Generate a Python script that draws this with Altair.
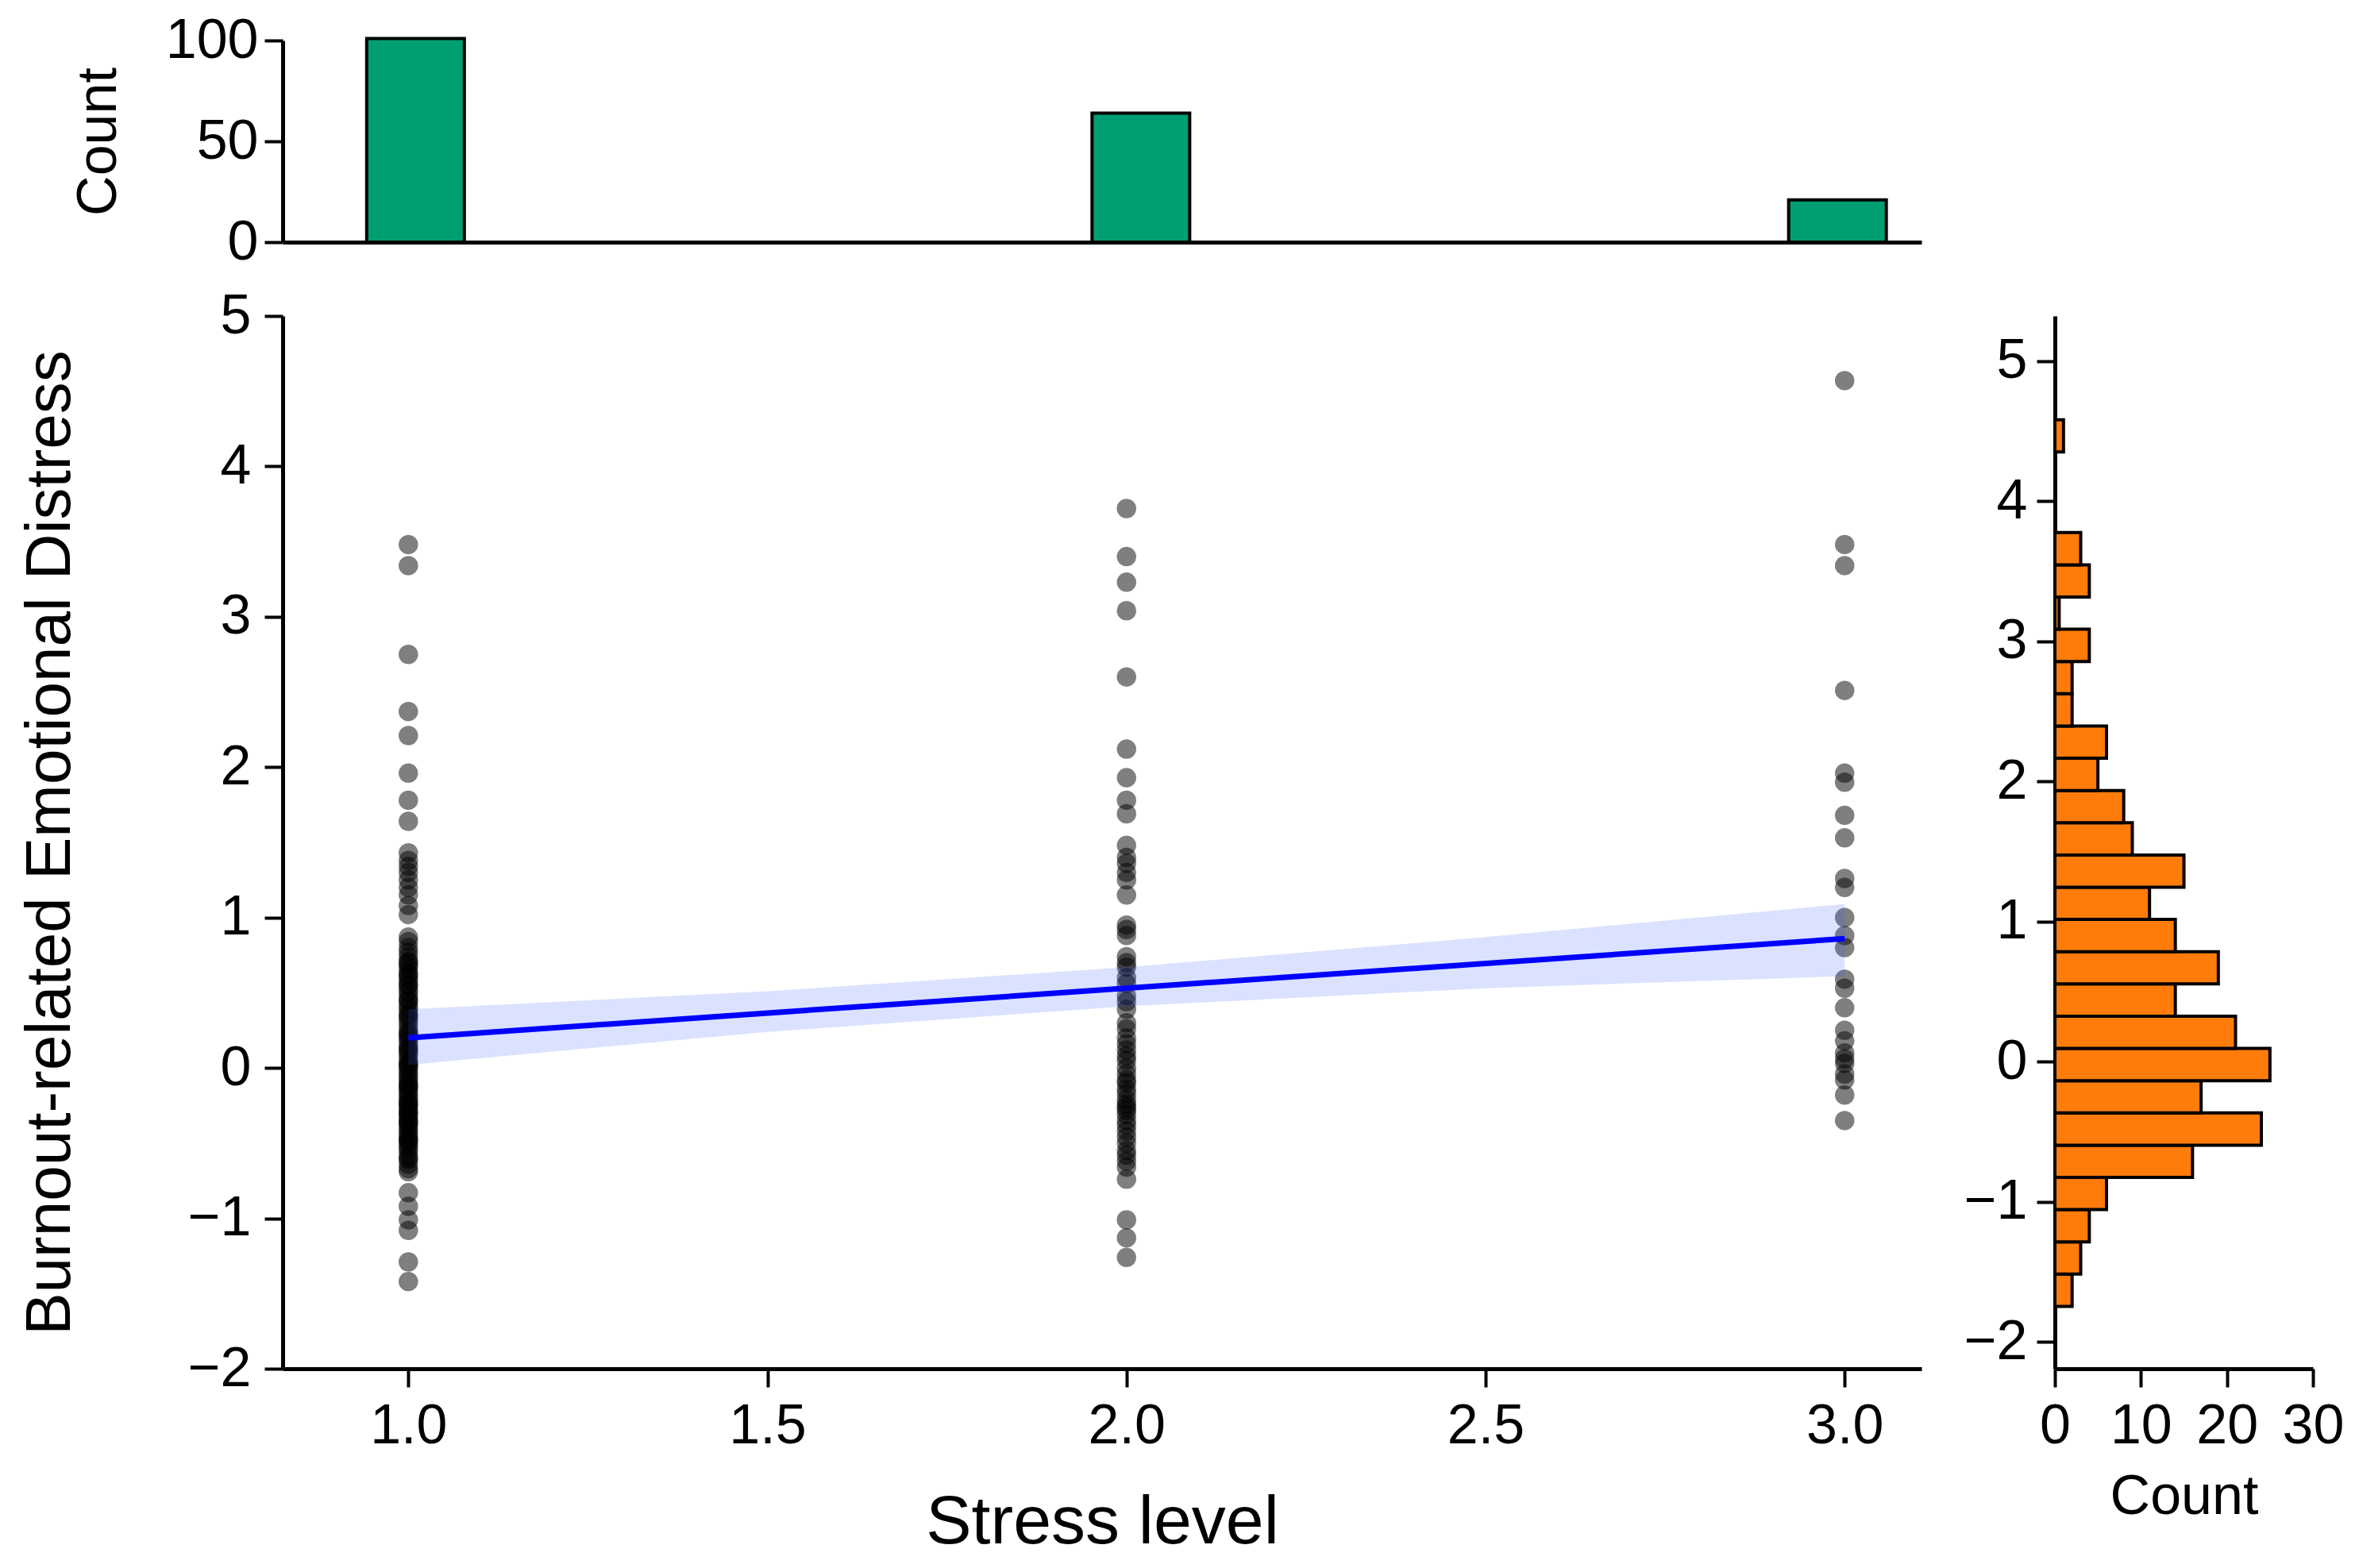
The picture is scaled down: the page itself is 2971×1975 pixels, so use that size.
import altair as alt
import pandas as pd

FONT = "Liberation Sans"
GREEN = "#009E73"
ORANGE = "#FF7C0A"

# ---------------- data ----------------
# scatter: distress values at each stress level
y_at_1 = [3.48, 3.34, 2.75, 2.37, 2.21, 1.96, 1.78, 1.64, 1.43, 1.38, 1.34, 1.30, 1.25,
          1.20, 1.15, 1.08, 1.02,
          0.87, 0.84, 0.80, 0.77, 0.74, 0.71, 0.70, 0.68, 0.66, 0.63, 0.62, 0.60, 0.58,
          0.55, 0.55, 0.52, 0.50, 0.47, 0.45, 0.44, 0.41, 0.39, 0.36, 0.35, 0.33, 0.31,
          0.28, 0.25, 0.23, 0.22, 0.20, 0.18, 0.15, 0.13, 0.12, 0.10, 0.08, 0.05, 0.03,
          0.02, 0.01, -0.01, -0.03, -0.05, -0.07, -0.09, -0.11, -0.12, -0.13, -0.15,
          -0.17, -0.19, -0.21, -0.23, -0.24, -0.25, -0.27, -0.29, -0.30, -0.31, -0.33,
          -0.35, -0.36, -0.37, -0.39, -0.41, -0.43, -0.45, -0.47, -0.48, -0.49, -0.51,
          -0.53, -0.55, -0.58, -0.60, -0.61, -0.64, -0.67, -0.69,
          -0.83, -0.92, -1.01, -1.08, -1.29, -1.42]
y_at_2 = [3.72, 3.40, 3.23, 3.04, 2.60, 2.12, 1.93, 1.78, 1.69, 1.48, 1.40, 1.36, 1.30,
          1.25, 1.15, 0.95, 0.92, 0.88, 0.74, 0.70, 0.67, 0.60, 0.56, 0.48, 0.44, 0.39,
          0.30, 0.26, 0.20, 0.16, 0.12, 0.08, 0.05, 0.00, -0.04, -0.08, -0.10, -0.14,
          -0.17, -0.21, -0.24, -0.26, -0.28, -0.31, -0.35, -0.38, -0.42, -0.46, -0.50,
          -0.55, -0.58, -0.62, -0.66, -0.74, -1.01, -1.13, -1.26]
y_at_3 = [4.57, 3.48, 3.34, 2.51, 1.96, 1.90, 1.68, 1.53, 1.26, 1.20, 1.00, 0.88, 0.80,
          0.59, 0.53, 0.40, 0.25, 0.18, 0.10, 0.06, 0.03, -0.04, -0.08, -0.18, -0.35]

# regression line and confidence band
reg_x = [1.0, 3.0]
reg_y = [0.20, 0.86]
ci_x = [1.0, 1.5, 2.0, 2.5, 3.0]
ci_lo = [0.02, 0.24, 0.41, 0.53, 0.61]
ci_hi = [0.39, 0.51, 0.67, 0.87, 1.09]

# top marginal histogram (stress level): bar centres and counts
top_levels = [1.01, 2.02, 2.99]
top_counts = [101, 64, 21]

# right marginal histogram (distress): bin lower edges and counts
right_bin_lo = [-1.745, -1.515, -1.285, -1.055, -0.825, -0.595, -0.365, -0.135, 0.095,
                0.325, 0.555, 0.785, 1.015, 1.245, 1.475, 1.705, 1.935, 2.165, 2.395,
                2.625, 2.855, 3.085, 3.315, 3.545, 4.35]
right_counts = [2, 3, 4, 6, 16, 24, 17, 25, 21, 14, 19, 14, 11, 15, 9, 8, 5, 6, 2, 2, 4,
                0.5, 4, 3, 1]

RIGHT_BIN_W = 0.23
TOP_HALF_W = 0.068

# ---------------- tables ----------------
scatter_df = pd.DataFrame({
    "stress": [1.0] * len(y_at_1) + [2.0] * len(y_at_2) + [3.0] * len(y_at_3),
    "distress": y_at_1 + y_at_2 + y_at_3,
})
reg_df = pd.DataFrame({"stress": reg_x, "distress": reg_y})
ci_df = pd.DataFrame({"stress": ci_x, "distress": ci_lo, "distress_hi": ci_hi})
top_df = pd.DataFrame({"level": top_levels, "count": top_counts})
right_df = pd.DataFrame({"lo": right_bin_lo, "count": right_counts})

X_TITLE = "Stress level"
Y_TITLE = "Burnout-related Emotional Distress"

xscale = alt.Scale(domain=[0.825, 3.107], nice=False, zero=False)
yscale = alt.Scale(domain=[-2, 5], nice=False, zero=False)

x_axis = alt.Axis(values=[1.0, 1.5, 2.0, 2.5, 3.0], format=".1f", title=X_TITLE,
                  titleFontSize=86, labelPadding=15, titlePadding=44, labelFlush=False)
y_axis = alt.Axis(values=[-2, -1, 0, 1, 2, 3, 4, 5], format="d", title=Y_TITLE,
                  titleFontSize=80, labelPadding=17, titlePadding=132)

points = alt.Chart(scatter_df).mark_circle(size=600, color="black", opacity=0.5).encode(
    x=alt.X("stress:Q", scale=xscale, axis=x_axis, title=X_TITLE),
    y=alt.Y("distress:Q", scale=yscale, axis=y_axis, title=Y_TITLE),
)
band = alt.Chart(ci_df).mark_area(color="#3a5cff", opacity=0.18).encode(
    x=alt.X("stress:Q", title=X_TITLE),
    y=alt.Y("distress:Q", title=Y_TITLE),
    y2="distress_hi:Q",
)
line = alt.Chart(reg_df).mark_line(color="#0000ff", strokeWidth=7).encode(
    x=alt.X("stress:Q", title=X_TITLE),
    y=alt.Y("distress:Q", title=Y_TITLE),
)
main = alt.layer(points, band, line).properties(width=2064, height=1326)

top = alt.Chart(top_df).transform_calculate(
    x1=f"datum.level - {TOP_HALF_W}", x2=f"datum.level + {TOP_HALF_W}", zero="0"
).mark_rect(color=GREEN, stroke="black", strokeWidth=4).encode(
    x=alt.X("x1:Q", scale=alt.Scale(domain=[0.825, 3.107], nice=False, zero=False),
            axis=alt.Axis(labels=False, ticks=False, title=None)),
    x2="x2:Q",
    y=alt.Y("zero:Q", scale=alt.Scale(domain=[0, 100], nice=False),
            axis=alt.Axis(values=[0, 50, 100], format="d", title="Count",
                          titleFontSize=70, labelPadding=8, titlePadding=48)),
    y2="count:Q",
).properties(width=2064, height=254)

spacer = alt.Chart(pd.DataFrame({"v": [0]})).mark_point(opacity=0).encode(
    x=alt.X("v:Q", axis=None), y=alt.Y("v:Q", axis=None)
).properties(width=325, height=200)

right = alt.Chart(right_df).transform_calculate(
    hi=f"datum.lo + {RIGHT_BIN_W}", zero="0"
).mark_rect(color=ORANGE, stroke="black", strokeWidth=4).encode(
    x=alt.X("zero:Q", scale=alt.Scale(domain=[0, 30], nice=False),
            axis=alt.Axis(values=[0, 10, 20, 30], format="d", title="Count",
                          titleFontSize=70, labelPadding=15, titlePadding=20,
                          labelFlush=False)),
    x2="count:Q",
    y=alt.Y("lo:Q", scale=alt.Scale(domain=[-2.19, 5.32], nice=False, zero=False),
            axis=alt.Axis(values=[-2, -1, 0, 1, 2, 3, 4, 5], format="d", title=None,
                          labelPadding=12)),
    y2="hi:Q",
).properties(width=325, height=1326)

chart = alt.concat(
    top, spacer, main, right, columns=2,
    spacing=alt.RowColnumber(row=23, column=53), align="each",
).configure_view(stroke=None).configure_axis(
    labelFont=FONT, titleFont=FONT, labelFontSize=70, titleFontWeight="normal",
    labelColor="black", titleColor="black", domainColor="black", tickColor="black",
    domainWidth=5, tickWidth=4, tickSize=23, grid=False,
).properties(background="white", padding={"left": 15, "top": 8, "right": 0, "bottom": 0})

chart.save("out.html", embed_options={"renderer": "svg", "actions": False})
